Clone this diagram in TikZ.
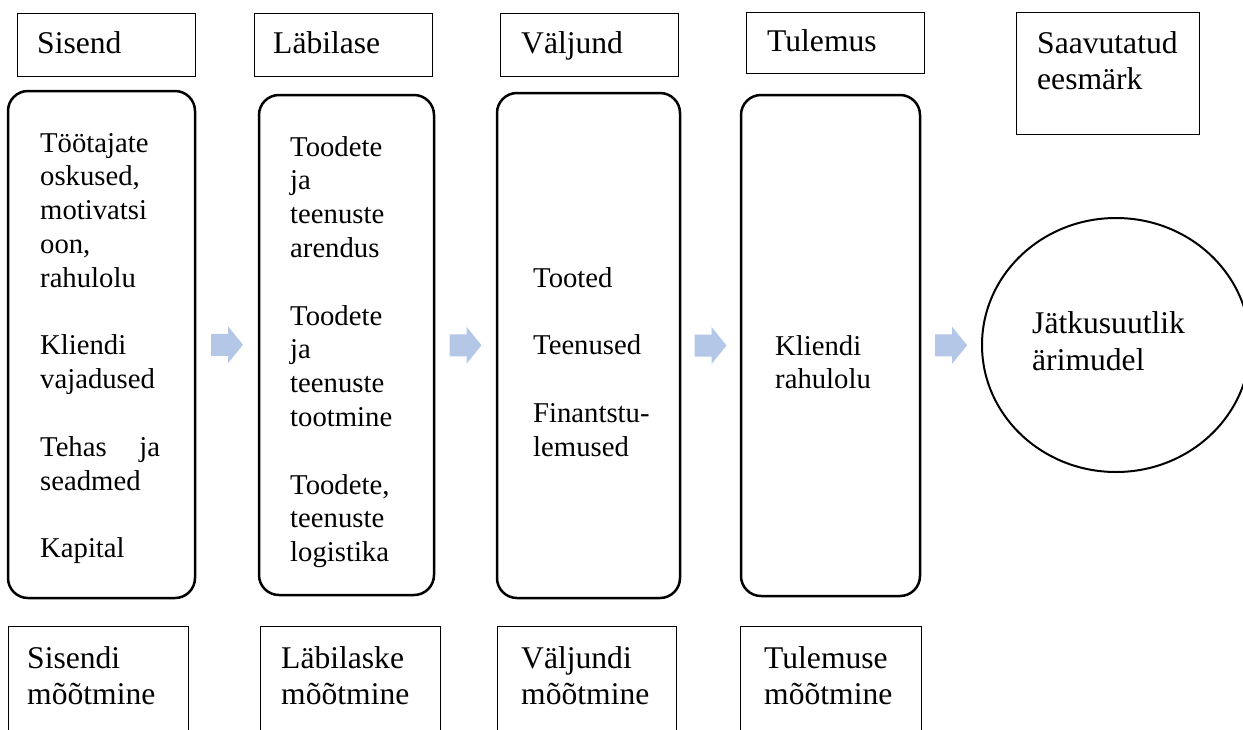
\documentclass[tikz,border=0pt]{standalone}
\usepackage{fontspec}
\setmainfont{Liberation Serif}
\usetikzlibrary{fit,calc,shapes.geometric}
\definecolor{flowblue}{RGB}{180,199,231}
% stacked lines, first baseline on the node's base anchor
\newcommand\cellstack[1]{\begin{tabular}[t]{@{}l@{}}#1\end{tabular}}
\begin{document}
\fontsize{28.7pt}{33.8pt}\selectfont
\begin{tikzpicture}[x=1pt,y=-1pt,
  headbox/.style={draw=black, line width=0.9pt, inner sep=0pt},
  stagebox/.style={draw=black, line width=2.5pt, rounded corners=20pt, inner sep=0pt},
  measurebox/.style={draw=black, line width=0.9pt, inner sep=0pt},
  txt/.style={anchor=base west, inner sep=0pt},
  bigtxt/.style={txt, font=\fontsize{31.6pt}{36pt}\selectfont},
  flow/.style={fill=flowblue, draw=none}]
\useasboundingbox (0,0) rectangle (1243,729);
\fill[white] (0,0) rectangle (1243,729);
\clip (0,0) rectangle (1243,729);

% column headings
\node[headbox, fit={(17,13) (195,76)}] (h1) {};
\node[headbox, fit={(254,13) (432,76)}] (h2) {};
\node[headbox, fit={(500,13) (678,76)}] (h3) {};
\node[headbox, fit={(746,12) (924,73)}] (h4) {};
\node[headbox, fit={(1016,12) (1199,134)}] (h5) {};
\node[bigtxt] (h1t) at (37,53) {Sisend};
\node[bigtxt] (h2t) at (273,53) {Läbilase};
\node[bigtxt] (h3t) at (521,53) {Väljund};
\node[bigtxt] (h4t) at (767,51) {Tulemus};
\node[bigtxt] (h5t) at (1037,53) {\cellstack{Saavutatud\\ eesmärk}};

% stages
\node[stagebox, fit={(8,91) (195,598)}] (s1) {};
\node[stagebox, fit={(259,95) (434,595)}] (s2) {};
\node[stagebox, fit={(497,93) (680,598)}] (s3) {};
\node[stagebox, fit={(741,95) (920,596)}] (s4) {};
\node[ellipse, draw=black, line width=2pt, inner sep=0pt,
      minimum width=268pt, minimum height=254pt] (goal) at (1116,345) {};

\node[txt] (s1t) at (40,152) {\cellstack{Töötajate\\ oskused,\\ motivatsi\\ oon,\\ rahulolu\\ \\ Kliendi\\ vajadused\\ \\ \makebox[120pt][s]{Tehas ja}\\ seadmed\\ \\ Kapital}};
\node[txt] (s2t) at (290,156) {\cellstack{Toodete\\ ja\\ teenuste\\ arendus\\ \\ Toodete\\ ja\\ teenuste\\ tootmine\\ \\ Toodete,\\ teenuste\\ logistika}};
\node[txt] (s3t) at (533,287) {\cellstack{Tooted\\ \\ Teenused\\ \\ Finantstu-\\ lemused}};
\node[txt] (s4t) at (775,355) {\cellstack{Kliendi\\ rahulolu}};
\node[bigtxt] (goalt) at (1032,333) {\cellstack{Jätkusuutlik\\[1pt] ärimudel}};

% block arrows between the stages
\coordinate (f1) at ($(s1.east)!0.5!(s2.west)$);
\coordinate (f2) at ($(s2.east)!0.5!(s3.west)$);
\coordinate (f3) at ($(s3.east)!0.5!(s4.west)$);
\coordinate (f4) at ($(s4.east)!0.5!(goal.west)$);
\foreach \f in {f1,f2,f3,f4}
  \fill[flow] (\f) ++(-16,-11) -- ++(17,0) -- ++(0,-7.5) -- ++(15,18.5)
    -- ++(-15,18.5) -- ++(0,-7.5) -- ++(-17,0) -- cycle;

% measurement boxes
\node[measurebox, fit={(8,626) (188,760)}] (m1) {};
\node[measurebox, fit={(260,626) (440,760)}] (m2) {};
\node[measurebox, fit={(497,626) (676,760)}] (m3) {};
\node[measurebox, fit={(740,626) (921,760)}] (m4) {};
\node[bigtxt] (m1t) at (27,668) {\cellstack{Sisendi\\ mõõtmine}};
\node[bigtxt] (m2t) at (281,668) {\cellstack{Läbilaske\\ mõõtmine}};
\node[bigtxt] (m3t) at (521,668) {\cellstack{Väljundi\\ mõõtmine}};
\node[bigtxt] (m4t) at (764,668) {\cellstack{Tulemuse\\ mõõtmine}};
\end{tikzpicture}
\end{document}
